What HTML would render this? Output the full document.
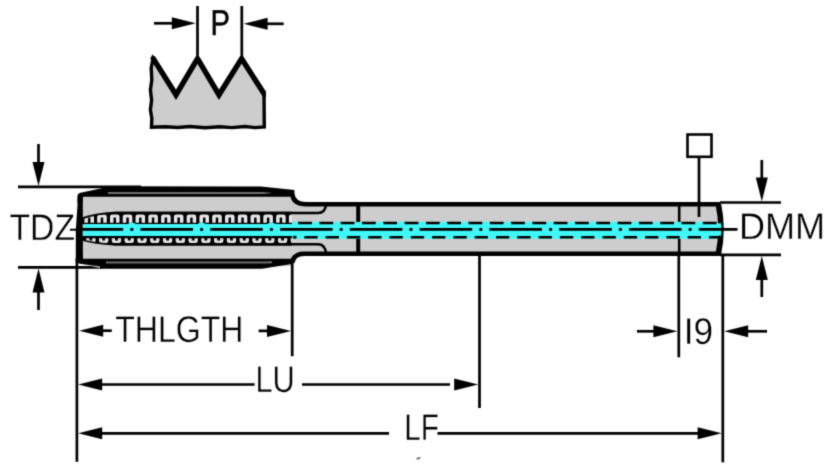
<!DOCTYPE html>
<html><head><meta charset="utf-8"><style>
html,body{margin:0;padding:0;background:#fff;}
svg{display:block;}
text{font-family:"Liberation Sans",sans-serif;fill:#000;stroke:#fff;stroke-width:0.35px;text-rendering:geometricPrecision;}
.t{filter:grayscale(1);}
</style></head><body>
<svg width="840" height="469" viewBox="0 0 840 469">
<defs><filter id="bl" x="0" y="0" width="840" height="469" filterUnits="userSpaceOnUse" color-interpolation-filters="sRGB"><feConvolveMatrix order="3" kernelMatrix="0.0256 0.1088 0.0256 0.1088 0.4624 0.1088 0.0256 0.1088 0.0256" edgeMode="duplicate"/></filter></defs>
<g filter="url(#bl)">
<rect width="840" height="469" fill="#fff"/>
<path d="M153,58.6 L176,94.8 L197.5,58.6 L219,94.8 L241.6,58.6 L264,94 L264.3,127 L255,127.6 L245,126.5 L232,127.6 L220,126.7 L205,127.7 L190,126.5 L178,127.5 L165,126.7 L151.5,127.3 L151.8,118 L150.4,110 L151.6,100 L150.4,90 L151.8,80 L151.2,68 Z" fill="#cdcdcd" stroke="#000" stroke-width="3.4"/>
<polyline points="153.3,58.6 176,94.8 197.5,58.6 219,94.8 241.6,58.6 264.6,94.5" fill="none" stroke="#000" stroke-width="5.4" stroke-linejoin="round" stroke-linecap="round"/>
<polygon points="176,94.8 173.71,96.23 176,99.89 178.29,96.23" fill="#000"/>
<polygon points="219,94.8 216.71,96.23 219,99.89 221.29,96.23" fill="#000"/>
<rect x="266" y="84" width="8" height="16" fill="#fff"/>
<line x1="197.5" y1="6" x2="197.5" y2="56" stroke="#000" stroke-width="2.7"/>
<line x1="241.8" y1="6" x2="241.8" y2="57" stroke="#000" stroke-width="2.7"/>
<line x1="154" y1="23.3" x2="180" y2="23.3" stroke="#000" stroke-width="2.7"/>
<polygon points="195.8,23.3 171.8,29.3 171.8,17.3" fill="#000"/>
<line x1="260" y1="23.8" x2="283.7" y2="23.8" stroke="#000" stroke-width="2.7"/>
<polygon points="243.6,23.8 267.6,17.8 267.6,29.8" fill="#000"/>
<line x1="18" y1="186.9" x2="141" y2="186.9" stroke="#000" stroke-width="2.7"/>
<line x1="18" y1="267.3" x2="102" y2="267.3" stroke="#000" stroke-width="2.7"/>
<line x1="38.5" y1="144" x2="38.5" y2="165" stroke="#000" stroke-width="2.7"/>
<polygon points="38.5,186 32.5,162.0 44.5,162.0" fill="#000"/>
<line x1="38.5" y1="285" x2="38.5" y2="310" stroke="#000" stroke-width="2.7"/>
<polygon points="38.5,268.5 44.5,292.5 32.5,292.5" fill="#000"/>
<line x1="70" y1="229.7" x2="78" y2="229.7" stroke="#000" stroke-width="2"/>
<path d="M78,203 L78,196 Q78,193.5 80.5,193 L102,188.5 L261,187 L293,190.5 L294,196 Q296,204.3 306,204.3 L720,204.3 Q724,229 720,253.7 L304,253.7 Q294,254 293,262 L292,266 L100,268 L84,264.5 Q78,263 78,256 Z" fill="#cdcdcd"/>
<line x1="358.2" y1="206" x2="358.2" y2="252" stroke="#000" stroke-width="4.0"/>
<line x1="679.2" y1="206" x2="679.2" y2="252" stroke="#000" stroke-width="2.6"/>
<path d="M77.6,203 L77.6,196 Q77.7,193.3 80.5,192.7 L102,188.3 L102,186.3 L261,186.4 L294.4,190.0 L294.4,196.7 L82.7,196.7 L82.7,202 Z" fill="#000"/>
<path d="M108,193.0 L263,193.0" stroke="#707070" stroke-width="2.2" fill="none"/>
<path d="M263,191.9 L271,192.7 L271,193.2 L263,194.1 Z" fill="#707070"/>
<path d="M76,255 L76,260.5 Q76.3,263.3 80,263.7 L100,266.5 L100,268.8 L262,268.8 L291.5,264 L293,258.8 L82.7,258.8 L82.7,255 Z" fill="#000"/>
<path d="M106,262.4 L262,262.4 L272,262.3" stroke="#707070" stroke-width="2.0" fill="none"/>
<path d="M292.2,194 Q293.5,204.3 306,204.3 L720,204.3" fill="none" stroke="#000" stroke-width="4.6"/>
<path d="M292.2,263 Q293.5,253.7 304,253.7 L720,253.7" fill="none" stroke="#000" stroke-width="4.6"/>
<polygon points="77.6,196 82.8,196 82.9,262 75.8,262 75.8,230 77.5,205" fill="#000"/>
<path d="M114,213 L318,213 Q325,213 326,205" fill="none" stroke="#000" stroke-width="2.4"/>
<path d="M114,244.2 L318,244.2 Q325,244.2 326,253" fill="none" stroke="#000" stroke-width="2.4"/>
<path d="M718.4,204.3 Q723.6,229 718.4,253.7" fill="none" stroke="#000" stroke-width="5.6"/>
<rect x="291" y="221.9" width="425.5" height="16.9" fill="#40f7f8"/>
<rect x="716" y="223.3" width="5.2" height="12.4" fill="#40f7f8"/>
<path d="M81,217.8 Q95,212.6 114,211.8 L292,211.8 L292,224.2 L81,224.2 Z" fill="#000"/>
<path d="M81,236.0 L292,236.0 L292,245.4 L114,245.4 Q95,244.8 81,240.6 Z" fill="#000"/>
<clipPath id="tc"><path d="M82.7,219.3 Q96,214.3 114,213.8 L292,213.8 L292,243.5 L114,243.5 Q96,243 82.7,239.5 Z"/></clipPath>
<g clip-path="url(#tc)"><path d="M84.40,222.8 L84.40,216.80 Q84.40,214.6 86.60,214.6 L91.80,214.6 Q94.00,214.6 94.00,216.80 L94.00,222.8 L90.45,222.8 L90.45,217.4 L87.95,217.4 L87.95,222.8 Z" fill="#e6e6e6"/>
<path d="M86.20,238.3 L86.20,240.80 Q86.20,243.0 88.40,243.0 L93.40,243.0 Q95.60,243.0 95.60,240.80 L95.60,238.3 L92.30,238.3 L92.30,240.6 L89.50,240.6 L89.50,238.3 Z" fill="#e2e2e2"/>
<path d="M97.18,222.8 L97.18,216.80 Q97.18,214.6 99.38,214.6 L104.58,214.6 Q106.78,214.6 106.78,216.80 L106.78,222.8 L103.23,222.8 L103.23,217.4 L100.73,217.4 L100.73,222.8 Z" fill="#e6e6e6"/>
<path d="M98.98,238.3 L98.98,240.80 Q98.98,243.0 101.18,243.0 L106.18,243.0 Q108.38,243.0 108.38,240.80 L108.38,238.3 L105.08,238.3 L105.08,240.6 L102.28,240.6 L102.28,238.3 Z" fill="#e2e2e2"/>
<path d="M109.96,222.8 L109.96,216.80 Q109.96,214.6 112.16,214.6 L117.36,214.6 Q119.56,214.6 119.56,216.80 L119.56,222.8 L116.01,222.8 L116.01,217.4 L113.51,217.4 L113.51,222.8 Z" fill="#e6e6e6"/>
<path d="M111.76,238.3 L111.76,240.80 Q111.76,243.0 113.96,243.0 L118.96,243.0 Q121.16,243.0 121.16,240.80 L121.16,238.3 L117.86,238.3 L117.86,240.6 L115.06,240.6 L115.06,238.3 Z" fill="#e2e2e2"/>
<path d="M122.74,222.8 L122.74,216.80 Q122.74,214.6 124.94,214.6 L130.14,214.6 Q132.34,214.6 132.34,216.80 L132.34,222.8 L128.79,222.8 L128.79,217.4 L126.29,217.4 L126.29,222.8 Z" fill="#e6e6e6"/>
<path d="M124.54,238.3 L124.54,240.80 Q124.54,243.0 126.74,243.0 L131.74,243.0 Q133.94,243.0 133.94,240.80 L133.94,238.3 L130.64,238.3 L130.64,240.6 L127.84,240.6 L127.84,238.3 Z" fill="#e2e2e2"/>
<path d="M135.52,222.8 L135.52,216.80 Q135.52,214.6 137.72,214.6 L142.92,214.6 Q145.12,214.6 145.12,216.80 L145.12,222.8 L141.57,222.8 L141.57,217.4 L139.07,217.4 L139.07,222.8 Z" fill="#e6e6e6"/>
<path d="M137.32,238.3 L137.32,240.80 Q137.32,243.0 139.52,243.0 L144.52,243.0 Q146.72,243.0 146.72,240.80 L146.72,238.3 L143.42,238.3 L143.42,240.6 L140.62,240.6 L140.62,238.3 Z" fill="#e2e2e2"/>
<path d="M148.30,222.8 L148.30,216.80 Q148.30,214.6 150.50,214.6 L155.70,214.6 Q157.90,214.6 157.90,216.80 L157.90,222.8 L154.35,222.8 L154.35,217.4 L151.85,217.4 L151.85,222.8 Z" fill="#e6e6e6"/>
<path d="M150.10,238.3 L150.10,240.80 Q150.10,243.0 152.30,243.0 L157.30,243.0 Q159.50,243.0 159.50,240.80 L159.50,238.3 L156.20,238.3 L156.20,240.6 L153.40,240.6 L153.40,238.3 Z" fill="#e2e2e2"/>
<path d="M161.08,222.8 L161.08,216.80 Q161.08,214.6 163.28,214.6 L168.48,214.6 Q170.68,214.6 170.68,216.80 L170.68,222.8 L167.13,222.8 L167.13,217.4 L164.63,217.4 L164.63,222.8 Z" fill="#e6e6e6"/>
<path d="M162.88,238.3 L162.88,240.80 Q162.88,243.0 165.08,243.0 L170.08,243.0 Q172.28,243.0 172.28,240.80 L172.28,238.3 L168.98,238.3 L168.98,240.6 L166.18,240.6 L166.18,238.3 Z" fill="#e2e2e2"/>
<path d="M173.86,222.8 L173.86,216.80 Q173.86,214.6 176.06,214.6 L181.26,214.6 Q183.46,214.6 183.46,216.80 L183.46,222.8 L179.91,222.8 L179.91,217.4 L177.41,217.4 L177.41,222.8 Z" fill="#e6e6e6"/>
<path d="M175.66,238.3 L175.66,240.80 Q175.66,243.0 177.86,243.0 L182.86,243.0 Q185.06,243.0 185.06,240.80 L185.06,238.3 L181.76,238.3 L181.76,240.6 L178.96,240.6 L178.96,238.3 Z" fill="#e2e2e2"/>
<path d="M186.64,222.8 L186.64,216.80 Q186.64,214.6 188.84,214.6 L194.04,214.6 Q196.24,214.6 196.24,216.80 L196.24,222.8 L192.69,222.8 L192.69,217.4 L190.19,217.4 L190.19,222.8 Z" fill="#e6e6e6"/>
<path d="M188.44,238.3 L188.44,240.80 Q188.44,243.0 190.64,243.0 L195.64,243.0 Q197.84,243.0 197.84,240.80 L197.84,238.3 L194.54,238.3 L194.54,240.6 L191.74,240.6 L191.74,238.3 Z" fill="#e2e2e2"/>
<path d="M199.42,222.8 L199.42,216.80 Q199.42,214.6 201.62,214.6 L206.82,214.6 Q209.02,214.6 209.02,216.80 L209.02,222.8 L205.47,222.8 L205.47,217.4 L202.97,217.4 L202.97,222.8 Z" fill="#e6e6e6"/>
<path d="M201.22,238.3 L201.22,240.80 Q201.22,243.0 203.42,243.0 L208.42,243.0 Q210.62,243.0 210.62,240.80 L210.62,238.3 L207.32,238.3 L207.32,240.6 L204.52,240.6 L204.52,238.3 Z" fill="#e2e2e2"/>
<path d="M212.20,222.8 L212.20,216.80 Q212.20,214.6 214.40,214.6 L219.60,214.6 Q221.80,214.6 221.80,216.80 L221.80,222.8 L218.25,222.8 L218.25,217.4 L215.75,217.4 L215.75,222.8 Z" fill="#e6e6e6"/>
<path d="M214.00,238.3 L214.00,240.80 Q214.00,243.0 216.20,243.0 L221.20,243.0 Q223.40,243.0 223.40,240.80 L223.40,238.3 L220.10,238.3 L220.10,240.6 L217.30,240.6 L217.30,238.3 Z" fill="#e2e2e2"/>
<path d="M224.98,222.8 L224.98,216.80 Q224.98,214.6 227.18,214.6 L232.38,214.6 Q234.58,214.6 234.58,216.80 L234.58,222.8 L231.03,222.8 L231.03,217.4 L228.53,217.4 L228.53,222.8 Z" fill="#e6e6e6"/>
<path d="M226.78,238.3 L226.78,240.80 Q226.78,243.0 228.98,243.0 L233.98,243.0 Q236.18,243.0 236.18,240.80 L236.18,238.3 L232.88,238.3 L232.88,240.6 L230.08,240.6 L230.08,238.3 Z" fill="#e2e2e2"/>
<path d="M237.76,222.8 L237.76,216.80 Q237.76,214.6 239.96,214.6 L245.16,214.6 Q247.36,214.6 247.36,216.80 L247.36,222.8 L243.81,222.8 L243.81,217.4 L241.31,217.4 L241.31,222.8 Z" fill="#e6e6e6"/>
<path d="M239.56,238.3 L239.56,240.80 Q239.56,243.0 241.76,243.0 L246.76,243.0 Q248.96,243.0 248.96,240.80 L248.96,238.3 L245.66,238.3 L245.66,240.6 L242.86,240.6 L242.86,238.3 Z" fill="#e2e2e2"/>
<path d="M250.54,222.8 L250.54,216.80 Q250.54,214.6 252.74,214.6 L257.94,214.6 Q260.14,214.6 260.14,216.80 L260.14,222.8 L256.59,222.8 L256.59,217.4 L254.09,217.4 L254.09,222.8 Z" fill="#e6e6e6"/>
<path d="M252.34,238.3 L252.34,240.80 Q252.34,243.0 254.54,243.0 L259.54,243.0 Q261.74,243.0 261.74,240.80 L261.74,238.3 L258.44,238.3 L258.44,240.6 L255.64,240.6 L255.64,238.3 Z" fill="#e2e2e2"/>
<path d="M263.32,222.8 L263.32,216.80 Q263.32,214.6 265.52,214.6 L270.72,214.6 Q272.92,214.6 272.92,216.80 L272.92,222.8 L269.37,222.8 L269.37,217.4 L266.87,217.4 L266.87,222.8 Z" fill="#e6e6e6"/>
<path d="M265.12,238.3 L265.12,240.80 Q265.12,243.0 267.32,243.0 L272.32,243.0 Q274.52,243.0 274.52,240.80 L274.52,238.3 L271.22,238.3 L271.22,240.6 L268.42,240.6 L268.42,238.3 Z" fill="#e2e2e2"/>
<path d="M276.10,222.8 L276.10,216.80 Q276.10,214.6 278.30,214.6 L283.50,214.6 Q285.70,214.6 285.70,216.80 L285.70,222.8 L282.15,222.8 L282.15,217.4 L279.65,217.4 L279.65,222.8 Z" fill="#e6e6e6"/>
<path d="M277.90,238.3 L277.90,240.80 Q277.90,243.0 280.10,243.0 L285.10,243.0 Q287.30,243.0 287.30,240.80 L287.30,238.3 L284.00,238.3 L284.00,240.6 L281.20,240.6 L281.20,238.3 Z" fill="#e2e2e2"/>
<path d="M288.88,222.8 L288.88,216.80 Q288.88,214.6 291.08,214.6 L296.28,214.6 Q298.48,214.6 298.48,216.80 L298.48,222.8 L294.93,222.8 L294.93,217.4 L292.43,217.4 L292.43,222.8 Z" fill="#e6e6e6"/>
<path d="M290.68,238.3 L290.68,240.80 Q290.68,243.0 292.88,243.0 L297.88,243.0 Q300.08,243.0 300.08,240.80 L300.08,238.3 L296.78,238.3 L296.78,240.6 L293.98,240.6 L293.98,238.3 Z" fill="#e2e2e2"/></g>
<rect x="82.7" y="224.1" width="210" height="11.9" fill="#40f7f8"/>
<ellipse cx="131.8" cy="229.4" rx="6.5" ry="6.9" fill="#40f7f8"/>
<ellipse cx="201.6" cy="229.4" rx="6.5" ry="6.9" fill="#40f7f8"/>
<ellipse cx="271.4" cy="229.4" rx="6.5" ry="6.9" fill="#40f7f8"/>
<line x1="298.1" y1="223.05" x2="721" y2="223.05" stroke="#000" stroke-width="2.6" stroke-dasharray="13.8 7.5"/>
<line x1="304.3" y1="237.3" x2="720.5" y2="237.3" stroke="#000" stroke-width="2.6" stroke-dasharray="13.3 8.0"/>
<line x1="293" y1="237.2" x2="296.5" y2="237.2" stroke="#000" stroke-width="2.6"/>
<line x1="80.5" y1="229.4" x2="123.2" y2="229.4" stroke="#000" stroke-width="2.6"/>
<line x1="140.4" y1="229.4" x2="193.0" y2="229.4" stroke="#000" stroke-width="2.6"/>
<line x1="210.2" y1="229.4" x2="262.8" y2="229.4" stroke="#000" stroke-width="2.6"/>
<line x1="280.0" y1="229.4" x2="332.6" y2="229.4" stroke="#000" stroke-width="2.6"/>
<line x1="349.8" y1="229.4" x2="402.4" y2="229.4" stroke="#000" stroke-width="2.6"/>
<line x1="419.6" y1="229.4" x2="472.2" y2="229.4" stroke="#000" stroke-width="2.6"/>
<line x1="489.4" y1="229.4" x2="542.0" y2="229.4" stroke="#000" stroke-width="2.6"/>
<line x1="559.2" y1="229.4" x2="611.8" y2="229.4" stroke="#000" stroke-width="2.6"/>
<line x1="629.0" y1="229.4" x2="681.6" y2="229.4" stroke="#000" stroke-width="2.6"/>
<line x1="698.8" y1="229.4" x2="737.5" y2="229.4" stroke="#000" stroke-width="2.6"/>
<circle cx="131.8" cy="229.4" r="1.7" fill="#000"/>
<circle cx="201.6" cy="229.4" r="1.7" fill="#000"/>
<circle cx="271.4" cy="229.4" r="1.7" fill="#000"/>
<circle cx="341.2" cy="229.4" r="1.7" fill="#000"/>
<circle cx="411.0" cy="229.4" r="1.7" fill="#000"/>
<circle cx="480.8" cy="229.4" r="1.7" fill="#000"/>
<circle cx="550.6" cy="229.4" r="1.7" fill="#000"/>
<circle cx="620.4" cy="229.4" r="1.7" fill="#000"/>
<circle cx="690.2" cy="229.4" r="1.7" fill="#000"/>
<rect x="687.5" y="134.5" width="24" height="22.3" fill="none" stroke="#000" stroke-width="2.6"/>
<line x1="699" y1="157" x2="699" y2="217" stroke="#000" stroke-width="2.7"/>
<line x1="720" y1="202.5" x2="781" y2="202.5" stroke="#000" stroke-width="2.7"/>
<line x1="720" y1="254.8" x2="781" y2="254.8" stroke="#000" stroke-width="2.7"/>
<line x1="761.8" y1="160" x2="761.8" y2="180" stroke="#000" stroke-width="2.7"/>
<polygon points="761.8,201.5 755.8,177.5 767.8,177.5" fill="#000"/>
<line x1="761.8" y1="275" x2="761.8" y2="297" stroke="#000" stroke-width="2.7"/>
<polygon points="761.8,256 767.8,280.0 755.8,280.0" fill="#000"/>
<line x1="76.9" y1="258" x2="76.9" y2="461.8" stroke="#000" stroke-width="2.7"/>
<line x1="292.2" y1="262" x2="292.2" y2="356.2" stroke="#000" stroke-width="2.7"/>
<line x1="479.5" y1="256" x2="479.5" y2="408" stroke="#000" stroke-width="2.7"/>
<line x1="678.8" y1="256" x2="678.8" y2="357.3" stroke="#000" stroke-width="2.7"/>
<line x1="722.8" y1="256" x2="722.8" y2="462.3" stroke="#000" stroke-width="2.7"/>
<line x1="100" y1="330.7" x2="111.8" y2="330.7" stroke="#000" stroke-width="2.7"/>
<polygon points="79.2,330.7 103.2,324.7 103.2,336.7" fill="#000"/>
<line x1="258.6" y1="330.9" x2="270" y2="330.9" stroke="#000" stroke-width="2.7"/>
<polygon points="291.0,330.9 267.0,336.9 267.0,324.9" fill="#000"/>
<line x1="100" y1="384.5" x2="254.6" y2="384.5" stroke="#000" stroke-width="2.7"/>
<polygon points="78.2,384.5 102.2,378.5 102.2,390.5" fill="#000"/>
<line x1="302" y1="384.5" x2="450" y2="384.5" stroke="#000" stroke-width="2.7"/>
<polygon points="478.2,384.5 454.2,390.5 454.2,378.5" fill="#000"/>
<line x1="100" y1="433.3" x2="389" y2="433.3" stroke="#000" stroke-width="2.7"/>
<polygon points="78.2,433.3 102.2,427.3 102.2,439.3" fill="#000"/>
<line x1="437.5" y1="433.3" x2="700" y2="433.3" stroke="#000" stroke-width="2.7"/>
<polygon points="721.6,433.3 697.6,439.3 697.6,427.3" fill="#000"/>
<line x1="637" y1="331.3" x2="656" y2="331.3" stroke="#000" stroke-width="2.7"/>
<polygon points="677.4,331.3 653.4,337.3 653.4,325.3" fill="#000"/>
<line x1="745" y1="331.3" x2="767" y2="331.3" stroke="#000" stroke-width="2.7"/>
<polygon points="724.2,331.3 748.2,325.3 748.2,337.3" fill="#000"/>
<ellipse cx="418.5" cy="458.3" rx="2.3" ry="1.1" transform="rotate(-20 418.5 458.3)" fill="#777"/>
<g class="t"><text x="9.56" y="239.72" font-size="37.2" textLength="65.44" lengthAdjust="spacingAndGlyphs">TDZ</text>
<text x="738.89" y="238.67" font-size="37.2" textLength="86.21" lengthAdjust="spacingAndGlyphs">DMM</text>
<text x="115.14" y="341.61" font-size="37.2" textLength="128.37" lengthAdjust="spacingAndGlyphs">THLGTH</text>
<text x="255.44" y="391.54" font-size="37.2" textLength="39.42" lengthAdjust="spacingAndGlyphs">LU</text>
<text x="404.26" y="439.57" font-size="37.2" textLength="34.72" lengthAdjust="spacingAndGlyphs">LF</text>
<text x="683.71" y="343.59" font-size="37.2" textLength="29.4" lengthAdjust="spacingAndGlyphs">I9</text>
<text x="210.5" y="34.6" font-size="36.0" textLength="19.5" lengthAdjust="spacingAndGlyphs" style="stroke:#000;stroke-width:0.5px">P</text></g>
</g>
</svg>
</body></html>
